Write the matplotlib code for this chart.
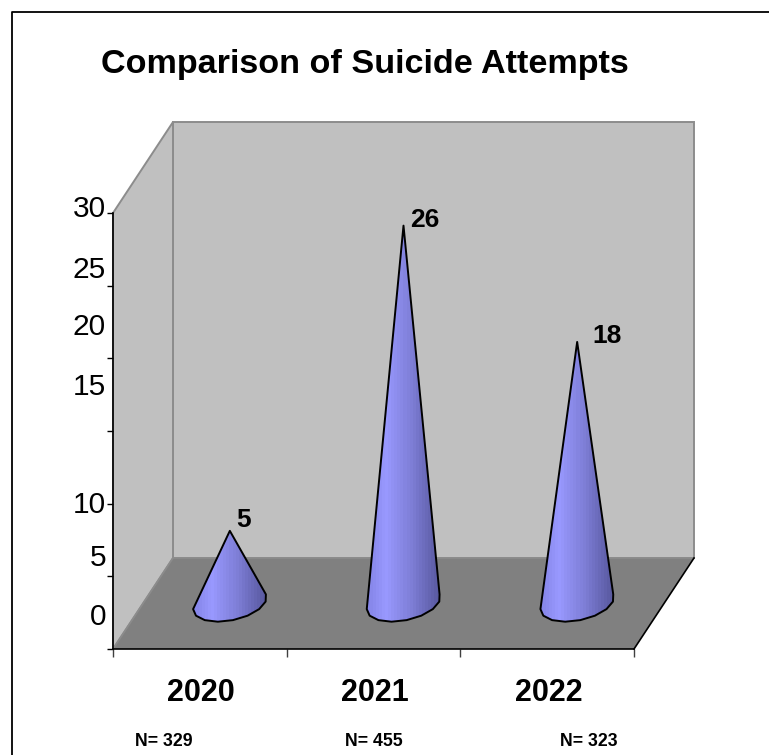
import numpy as np
import matplotlib
matplotlib.use("Agg")
import matplotlib.pyplot as plt
from matplotlib.lines import Line2D
from matplotlib.patches import Polygon
from matplotlib.colors import LinearSegmentedColormap

years = ["2020", "2021", "2022"]
attempts = [5, 26, 18]
sample_sizes = ["N= 329", "N= 455", "N= 323"]
y_ticks = [0, 5, 10, 15, 20, 25, 30]
y_tick_labels = {"30": 209, "25": 270, "20": 327, "15": 387, "10": 505, "5": 558, "0": 617}

W, H = 769, 755
plt.rcParams["font.family"] = ["Liberation Sans", "DejaVu Sans"]

fig = plt.figure(figsize=(W / 100, H / 100), dpi=100, facecolor="white")

# The axes box is the front plane of the 3D frame; depth is sheared up and right.
L, R, B, T = 113, 634, 649, 213
ax = fig.add_axes([L / W, 1 - B / H, (R - L) / W, (B - T) / H])
ax.set_xlim(0, 3)
ax.set_ylim(0, 30)
ax.patch.set_visible(False)

x_per_px = 3 / (R - L)
y_per_px = 30 / (B - T)
DX = 60 * x_per_px
DY = 91 * y_per_px


def proj(x, y, d=0.0):
    """Oblique projection of category x, value y and depth d into data space."""
    return x + d * DX, y + d * DY


# Walls and floor
wall = "#C0C0C0"
floor = "#808080"
edge = "#8C8C8C"
back = [proj(0, 0, 1), proj(3, 0, 1), proj(3, 30, 1), proj(0, 30, 1)]
side = [proj(0, 0, 0), proj(0, 0, 1), proj(0, 30, 1), proj(0, 30, 0)]
base = [proj(0, 0, 0), proj(3, 0, 0), proj(3, 0, 1), proj(0, 0, 1)]
ax.add_patch(Polygon(back, closed=True, fc=wall, ec=edge, lw=1.4, clip_on=False, zorder=1))
ax.add_patch(Polygon(side, closed=True, fc=wall, ec=edge, lw=1.4, clip_on=False, zorder=1))
ax.add_patch(Polygon(base, closed=True, fc=floor, ec="none", clip_on=False, zorder=2))
ax.add_line(Line2D(*zip(proj(0, 0, 1), proj(3, 0, 1)), color=edge, lw=1.2, clip_on=False, zorder=2))
ax.add_line(Line2D(*zip(proj(0, 0, 0), proj(0, 0, 1)), color=edge, lw=1.2, clip_on=False, zorder=2))
ax.add_line(Line2D(*zip(proj(3, 0, 0), proj(3, 0, 1)), color="black", lw=1.2, clip_on=False, zorder=3))

# Cones: each stands on an oblique circle at mid depth
shade = LinearSegmentedColormap.from_list(
    "cone", [(0.0, "#8585E8"), (0.25, "#9999FF"), (0.6, "#7F7FD8"), (1.0, "#5A5AA0")]
)
half_w = 0.2
half_d = 0.2
value_label_offsets = [(6, 11), (7, 6), (15, 6)]
for i, value in enumerate(attempts):
    cx, cy = i + 0.5, 0.0
    t = np.radians(np.arange(0, 360, 24) + 6)
    px = cx + 0.5 * DX + half_w * np.cos(t) + half_d * DX * np.sin(t)
    py = cy + 0.5 * DY + half_d * DY * np.sin(t)
    left = int(np.argmin(px))
    right = int(np.argmax(px))
    # lower arc runs from the left extreme through the front to the right extreme
    idx = [(left + k) % len(t) for k in range(((right - left) % len(t)) + 1)]
    apex = proj(cx, value, 0.5)
    outline = [apex] + [(px[j], py[j]) for j in idx]
    cone = Polygon(outline, closed=True, fc="none", ec="black", lw=1.4, joinstyle="round",
                   clip_on=False, zorder=6)
    ax.add_patch(cone)
    grad = np.linspace(0, 1, 24)[None, :]
    img = ax.imshow(
        grad, cmap=shade, aspect="auto", zorder=5, interpolation="nearest",
        extent=(px[left], px[right], py.min(), apex[1]),
    )
    img.set_clip_path(cone)
    off_x, off_y = value_label_offsets[i]
    ax.text(
        apex[0] + off_x * x_per_px, apex[1] + off_y * y_per_px, str(value),
        fontsize=19, fontweight="bold", ha="left", va="center", zorder=7,
    )
ax.set_xlim(0, 3)
ax.set_ylim(0, 30)

# Front axes
for s in ("top", "right"):
    ax.spines[s].set_visible(False)
for s in ("left", "bottom"):
    ax.spines[s].set_linewidth(1.2)
    ax.spines[s].set_zorder(4)
ax.set_xticks([0, 1, 2, 3], [""] * 4)
ax.set_yticks(y_ticks, [""] * len(y_ticks))
ax.tick_params(axis="x", length=6, width=1.0, color="#404040")
ax.tick_params(axis="y", length=4.5, width=1.0)


# Text placed in figure pixels measured from the top-left corner
def fig_text(px_x, px_y, s, **kw):
    fig.text(px_x / W, 1 - px_y / H, s, **kw)


for label, y_px in y_tick_labels.items():
    fig_text(106, y_px, label, fontsize=21.5, ha="right", va="center")

for x_px, year in zip([201, 375, 549], years):
    fig_text(x_px, 693, year, fontsize=22, fontweight="bold", ha="center", va="center")
for x_px, note in zip([164, 374, 589], sample_sizes):
    fig_text(x_px, 742, note, fontsize=12.8, fontweight="bold", ha="center", va="center")

fig_text(101, 64, "Comparison of Suicide Attempts", fontsize=24.6, fontweight="bold", ha="left", va="center")

# Chart-area border: only the top and left edges fall inside the canvas
fig.add_artist(Line2D([11.5 / W, 11.5 / W, 1], [0, 1 - 11.5 / H, 1 - 11.5 / H], color="black", lw=1.3))

fig.savefig("out.png", dpi=100)
